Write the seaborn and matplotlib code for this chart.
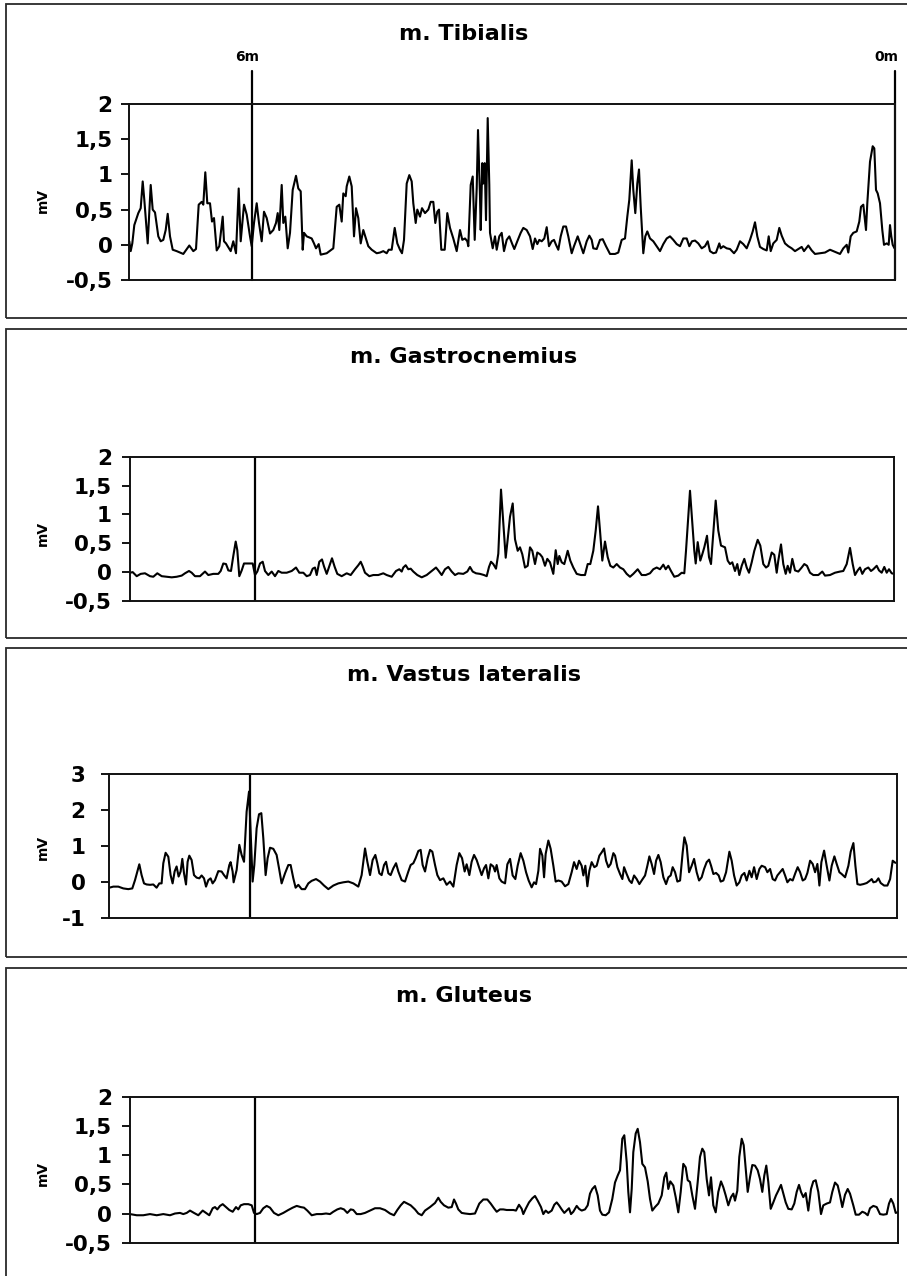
import matplotlib
matplotlib.use('Agg')
import matplotlib.pyplot as plt
from matplotlib.patches import Rectangle
import seaborn as sns
import pandas as pd

sns.set_style('white')
plt.rcParams['font.family'] = ['DejaVu Sans']
plt.rcParams['text.color'] = 'black'
plt.rcParams['axes.labelcolor'] = 'black'
plt.rcParams['xtick.color'] = 'black'
plt.rcParams['ytick.color'] = 'black'

# ---------------- data ----------------
titles = ["m. Tibialis", "m. Gastrocnemius", "m. Vastus lateralis", "m. Gluteus"]
ylabel = "mV"
marker_labels = ["6m", "0m"]
yticks_a = [-0.5, 0, 0.5, 1, 1.5, 2]
yticklabels_a = ["-0,5", "0", "0,5", "1", "1,5", "2"]
yticks_b = [-1, 0, 1, 2, 3]
yticklabels_b = ["-1", "0", "1", "2", "3"]

t_tib = [1.3, 2.7, 4.3, 6.3, 10.3, 12.7, 14.7, 16.3, 19.7, 22.7,
         24.7, 27, 30.3, 32.7, 35.3, 37.7, 39.7, 42, 44.7, 48.7,
         55.3, 61.3, 65.3, 68, 70.7, 73.7, 75.3, 77.3, 79.3, 82,
         84, 86, 88.7, 91.3, 94.7, 96, 98, 102.7, 105.3, 108,
         110.7, 112.7, 116, 118.7, 122, 123.7, 126, 128.7, 131, 133.7,
         136, 138.7, 142, 145.3, 148, 149.7, 151.3, 153.7, 155.3, 157.3,
         159.7, 162, 164.7, 168, 170.3, 172.7, 174.7, 176, 178.7, 183.7,
         186, 188, 190.7, 192.7, 198.7, 205.3, 208.7, 211.3, 213.7, 215.3,
         217.7, 218.7, 221.3, 223.7, 226, 228, 230.3, 232.7, 235.3, 237.3,
         240.3, 243.7, 248.7, 252, 255.3, 258.7, 260.7, 263.7, 266.7, 269.3,
         272, 274, 276, 278.7, 281.3, 283.7, 285.3, 287.7, 289.3, 292,
         294, 297, 300.3, 302.7, 305.3, 307.3, 309.3, 311, 313.3, 316.7,
         319.3, 322, 325.3, 328.7, 332, 334.3, 337, 339.3, 340.3, 342.7,
         344.7, 346.7, 348.7, 350, 352, 352.7, 354.3, 355.3, 356.7, 358,
         359.7, 361.3, 362, 364.7, 367, 368.7, 371.3, 373.7, 376, 378.7,
         381.3, 384, 386.3, 389.3, 392.7, 395.3, 398.7, 402, 404.7, 407,
         409.3, 411.3, 413.7, 416.3, 418.7, 421, 423.7, 426, 428, 430.3,
         432.7, 435.3, 438, 440.3, 443.7, 446, 449.7, 452, 455.3, 458.7,
         461.3, 463.7, 465.3, 468.7, 472, 474.7, 478, 482, 487, 490.3,
         493.7, 497, 499.3, 501.3, 503.7, 505.3, 507.3, 509.3, 511, 512.7,
         515.3, 517.3, 519.3, 522, 525.3, 528.7, 532, 535.3, 538.7, 542,
         545.3, 548.7, 552, 555.3, 558.7, 561.3, 564, 567, 570.3, 573.7,
         577, 579.7, 582, 585.3, 588, 591.3, 592.7, 595.3, 598.7, 602,
         606, 608.7, 612, 615.3, 618.7, 622, 624.7, 627, 629.3, 632,
         635.3, 638.7, 640.7, 642.7, 645.3, 648.7, 651.3, 653.7, 657, 660.3,
         663.7, 667, 670.3, 673.7, 676, 680.3, 683.7, 687, 692, 697,
         702, 705.3, 708.7, 712, 715.3, 718.7, 720.3, 722.7, 725.3, 728.7,
         731.3, 733, 735.3, 738, 739.3, 742, 744.7, 746.3, 748, 749.7,
         752, 754.3, 756, 758.7, 760.7, 762, 763.3, 764.7, 766.5]
v_tib = [0.05, -0.09, 0.02, 0.28, 0.45, 0.52, 0.90, 0.64, 0.02, 0.85,
         0.50, 0.46, 0.12, 0.05, 0.07, 0.21, 0.44, 0.12, -0.07, -0.09,
         -0.13, -0.01, -0.09, -0.06, 0.57, 0.61, 0.57, 1.03, 0.59, 0.59,
         0.33, 0.38, -0.08, -0.02, 0.40, 0.05, 0.02, -0.09, 0.05, -0.12,
         0.80, 0.05, 0.57, 0.43, 0.12, -0.02, 0.31, 0.59, 0.31, 0.05,
         0.47, 0.38, 0.16, 0.21, 0.31, 0.45, 0.21, 0.85, 0.31, 0.40,
         -0.05, 0.17, 0.78, 0.98, 0.80, 0.76, -0.07, 0.17, 0.12, 0.09,
         0.02, -0.05, 0.01, -0.14, -0.12, -0.05, 0.54, 0.57, 0.33, 0.73,
         0.69, 0.83, 0.97, 0.83, 0.12, 0.52, 0.38, 0.02, 0.21, 0.12,
         -0.02, -0.07, -0.12, -0.11, -0.09, -0.12, -0.07, -0.07, 0.24, 0.02,
         -0.07, -0.12, 0.07, 0.87, 0.99, 0.90, 0.59, 0.31, 0.50, 0.40,
         0.52, 0.45, 0.50, 0.61, 0.61, 0.31, 0.47, 0.50, -0.07, -0.07,
         0.45, 0.24, 0.09, -0.09, 0.21, 0.07, 0.09, 0.05, -0.02, 0.85,
         0.97, 0.07, 0.80, 1.63, 0.69, 0.21, 1.16, 0.87, 1.16, 0.35,
         1.80, 0.85, 0.17, -0.05, 0.12, -0.07, 0.12, 0.17, -0.09, 0.07,
         0.12, 0.02, -0.06, 0.05, 0.17, 0.24, 0.21, 0.12, -0.06, 0.09,
         0.01, 0.07, 0.05, 0.09, 0.25, -0.02, 0.05, 0.07, 0.00, -0.07,
         0.12, 0.26, 0.26, 0.12, -0.12, -0.02, 0.12, 0.02, -0.12, 0.05,
         0.13, 0.07, -0.05, -0.06, 0.07, 0.08, -0.02, -0.13, -0.13, -0.11,
         0.07, 0.09, 0.40, 0.64, 1.20, 0.78, 0.45, 0.87, 1.07, 0.54,
         -0.12, 0.12, 0.19, 0.09, 0.05, -0.02, -0.09, 0.01, 0.09, 0.12,
         0.07, 0.01, -0.02, 0.09, 0.09, -0.02, 0.05, 0.06, 0.02, -0.05,
         -0.02, 0.05, -0.09, -0.12, -0.11, 0.02, -0.05, -0.02, -0.05, -0.06,
         -0.12, -0.07, 0.05, 0.01, -0.05, 0.07, 0.19, 0.32, 0.12, -0.03,
         -0.06, -0.08, 0.12, -0.09, 0.02, 0.07, 0.24, 0.13, 0.02, -0.02,
         -0.05, -0.09, -0.06, -0.03, -0.09, -0.01, -0.08, -0.13, -0.12, -0.11,
         -0.07, -0.09, -0.11, -0.13, -0.05, 0.00, -0.11, 0.12, 0.17, 0.19,
         0.33, 0.54, 0.57, 0.21, 0.59, 1.18, 1.40, 1.37, 0.78, 0.73,
         0.59, 0.21, 0.00, 0.02, 0.00, 0.28, 0.12, 0.00, -0.05]

t_gas = [0, 2.7, 6.7, 10.7, 15, 20, 23.3, 27.3, 31.7, 36.7,
         41.7, 46.7, 51.7, 55, 59, 61.7, 65, 70, 75, 78.3,
         83.3, 88.3, 90.7, 93.3, 96, 98.3, 101, 103.3, 105.7, 107.3,
         109.3, 111.7, 114, 118.3, 122.7, 125, 127.3, 130, 132.7, 135,
         138.3, 141.7, 145, 148.3, 151.7, 156.7, 161.7, 166, 169.3, 173.3,
         176.7, 180, 182.7, 185, 186.7, 189.3, 192, 194, 196.7, 199.3,
         202, 204.7, 207.3, 211.7, 216.7, 220.7, 225, 228.3, 230.7, 232.7,
         235, 239.3, 243.3, 248.3, 253.3, 256.7, 261.7, 266, 269.3, 271.7,
         273.3, 275.7, 278.3, 280.7, 283.3, 287.3, 291.7, 296.7, 301.7, 306,
         308.3, 311.7, 315, 318.3, 321.7, 325, 328.3, 333.3, 337.3, 340,
         342.7, 346, 350, 354, 356.7, 359, 361, 363.3, 366, 368.3,
         371, 375.7, 377.7, 380, 382.7, 385, 387.7, 390, 392.3,
         395, 397.7, 400, 402.3, 405, 407.3, 410, 412.3, 415, 417.3,
         420, 423.3, 425.7, 427.7, 429.3, 431.7, 434.3, 437.7, 440.3, 443.3,
         446.7, 451, 455, 457.7, 460.3, 463.3, 465.7, 468, 470, 472.3,
         475, 477.7, 480.3, 483.3, 486.7, 490, 493.3, 496.7, 500, 503.3,
         507.7, 511.7, 515.7, 520, 523.3, 526.7, 530, 533.3, 535.7, 538.3,
         541, 544.3, 548.3, 551.7, 554.3, 556, 560, 564.3, 565.7, 567.7,
         570.3, 572.3, 574.3, 577, 579, 581, 583, 585.7, 588.3, 591,
         595, 597.7, 600, 602.3, 605, 607.3, 609.3, 611.7, 614.3, 616.7,
         619, 621.7, 624.3, 627.7, 630.3, 633.3, 636, 638.3, 641.7, 644.3,
         646.7, 648.3, 651, 653.3, 655.7, 657.7, 660, 662.3, 665, 668.3,
         671.7, 674.3, 677, 680, 683.3, 688.3, 692.3, 695, 700, 705,
         710, 713.3, 716.7, 720, 722.7, 725, 727.7, 730, 732.3, 735,
         738.3, 741, 743.3, 746.7, 749, 751.7, 754.3, 756.7, 759, 761.7,
         764]
v_gas = [-0.01, 0.00, -0.07, -0.03, -0.02, -0.07, -0.08, -0.02, -0.07, -0.08,
         -0.09, -0.08, -0.06, -0.02, 0.02, -0.01, -0.07, -0.07, 0.01, -0.05,
         -0.03, -0.03, 0.02, 0.15, 0.14, 0.03, 0.02, 0.28, 0.53, 0.38,
         -0.07, 0.03, 0.15, 0.15, 0.15, -0.05, 0.01, 0.15, 0.18, 0.02,
         -0.05, 0.01, -0.07, 0.02, -0.01, -0.01, 0.02, 0.08, -0.01, -0.01,
         -0.07, -0.05, 0.06, 0.08, -0.05, 0.18, 0.22, 0.10, -0.03, 0.10,
         0.24, 0.09, -0.03, -0.07, -0.02, -0.05, 0.05, 0.12, 0.18, 0.10,
         -0.01, -0.07, -0.05, -0.05, -0.02, -0.05, -0.08, 0.02, 0.05, 0.01,
         0.08, 0.12, 0.05, 0.06, 0.01, -0.05, -0.09, -0.05, 0.02, 0.08,
         0.03, -0.05, 0.05, 0.09, 0.01, -0.05, -0.02, -0.03, 0.01, 0.09,
         0.01, -0.02, -0.03, -0.05, -0.07, 0.09, 0.18, 0.14, 0.06, 0.32,
         1.43, 0.25, 0.57, 0.96, 1.19, 0.57, 0.37, 0.43, 0.31,
         0.08, 0.11, 0.43, 0.37, 0.14, 0.34, 0.31, 0.26, 0.11, 0.23,
         0.17, -0.03, 0.38, 0.14, 0.28, 0.17, 0.14, 0.37, 0.20, 0.08,
         -0.03, -0.05, -0.05, 0.14, 0.14, 0.37, 0.72, 1.14, 0.72, 0.20,
         0.53, 0.26, 0.11, 0.08, 0.14, 0.08, 0.05, -0.03, -0.08, -0.03,
         0.05, -0.05, -0.05, -0.02, 0.05, 0.08, 0.05, 0.13, 0.05, 0.11,
         0.02, -0.08, -0.06, -0.01, -0.02, 0.37, 1.41, 0.37, 0.15, 0.52,
         0.20, 0.31, 0.43, 0.63, 0.26, 0.14, 0.60, 1.24, 0.72, 0.46,
         0.43, 0.20, 0.14, 0.17, 0.02, 0.14, -0.05, 0.11, 0.23, 0.08,
         -0.01, 0.17, 0.37, 0.56, 0.46, 0.14, 0.08, 0.11, 0.34, 0.30,
         -0.01, 0.20, 0.48, 0.14, -0.03, 0.11, -0.01, 0.23, 0.03, 0.01,
         0.08, 0.14, 0.11, -0.01, -0.05, -0.05, 0.01, -0.06, -0.05, -0.01,
         0.01, 0.02, 0.14, 0.42, 0.14, -0.05, 0.03, 0.08, -0.03, 0.05,
         0.08, 0.02, 0.05, 0.11, 0.03, -0.01, 0.09, -0.01, 0.05, -0.02,
         -0.03]

t_vas = [0, 4, 9, 14, 19, 23, 25.7, 28, 30, 32.3,
         34.7, 37.3, 40.7, 44, 47.3, 50, 52.3, 54, 56.3, 59,
         61.3, 63.3, 65.3, 67.3, 69.3, 71.3, 73, 74.7, 76.7, 78.3,
         80, 82.3, 84.7, 87.3, 90, 92.3, 94.7, 96.7, 99, 101.3,
         103.3, 105.7, 109, 112.3, 114.7, 117.3, 120, 121.3, 123.3, 124.3,
         127.3, 130, 132.3, 134.7, 137.3, 139.7, 141.3, 143.3, 145, 147.3,
         149.7, 152, 154, 156.3, 158.3, 160.7, 164, 167.3, 169.7, 172.3,
         175.7, 179, 181.3, 184, 186.3, 189, 192.3, 195.7, 199, 202.3,
         206.7, 210.7, 214.7, 219, 224, 229, 234, 239, 244, 249,
         252.3, 255.7, 258, 260.7, 263.3, 266, 268, 270, 272.3, 274.7,
         276.7, 279, 281.3, 284, 286.7, 289, 292.3, 295.7, 299, 301.3,
         304, 306.3, 309, 311.3, 313.3, 315.7, 318.3, 320.7, 323, 325.7,
         328, 330.7, 334, 337.3, 340.7, 344, 347.3, 350, 352.7, 355.3,
         357.3, 360, 362.3, 364.7, 367.3, 370, 372.3, 374.7, 376.7, 379,
         381.3, 384, 385.7, 387.3, 390, 392.3, 395.7, 398, 400.7, 403.3,
         406, 408.3, 411.3, 414, 416.7, 419.3, 422.3, 424.7, 426.7, 429,
         430.7, 433, 434.7, 436.3, 439, 441.3, 444, 446.3, 449, 452.3,
         455.7, 459, 462.3, 464.7, 467.3, 469.7, 472.3, 474, 476, 478,
         480, 482.3, 485, 487.3, 490, 492.3, 494.7, 496.7, 499, 501.3,
         504, 505.7, 508, 510.7, 513, 514.7, 517.3, 520, 522.3, 524.7,
         527.3, 530, 532.3, 535.7, 538, 540, 542.3, 544.7, 546.7, 549,
         551.3, 554, 556.7, 559, 561.3, 563.3, 565.7, 568, 570.7, 573.3,
         575, 577.3, 579.7, 582.3, 584.7, 587.3, 589.7, 592.3, 594.7, 597.3,
         599.7, 601.7, 604, 606.7, 609.3, 611.3, 614, 616.7, 620, 622.3,
         624.7, 627.3, 630, 632.3, 635, 637.3, 640, 642.3, 644.7, 647.3,
         650, 652.3, 655.7, 658, 660.7, 663.3, 665.7, 668, 670.7, 673.3,
         675.7, 678, 680.7, 683.3, 686, 688.3, 690.7, 693.3, 695.7, 698,
         700.7, 703.3, 705.7, 708, 710, 712, 714.7, 717.3, 720, 722.3,
         725, 727.3, 730, 732.3, 735.7, 739, 741.3, 744, 746, 748,
         750.7, 754, 757.3, 760.7, 762.3, 764, 766.7, 769, 771.3, 774.7,
         778, 780.7, 783.3, 786]
v_vas = [-0.15, -0.12, -0.12, -0.17, -0.19, -0.17, 0.06, 0.30, 0.50, 0.20,
         -0.03, -0.06, -0.07, -0.06, -0.15, -0.03, -0.03, 0.53, 0.82, 0.71,
         0.20, -0.03, 0.30, 0.44, 0.16, 0.30, 0.65, 0.25, -0.06, 0.57,
         0.74, 0.62, 0.20, 0.13, 0.11, 0.19, 0.11, -0.12, 0.06, 0.11,
         -0.03, 0.06, 0.31, 0.30, 0.20, 0.11, 0.48, 0.56, 0.30, 0.00,
         0.34, 1.04, 0.76, 0.57, 1.96, 2.52, 1.41, 0.02, 0.48, 1.50,
         1.89, 1.92, 1.22, 0.20, 0.67, 0.96, 0.93, 0.76, 0.39, -0.03,
         0.25, 0.48, 0.48, 0.11, -0.15, -0.07, -0.19, -0.19, -0.03, 0.04,
         0.09, 0.02, -0.09, -0.19, -0.09, -0.03, 0.00, 0.02, -0.03, -0.12,
         0.20, 0.94, 0.57, 0.20, 0.62, 0.76, 0.53, 0.25, 0.20, 0.48,
         0.57, 0.25, 0.20, 0.39, 0.53, 0.30, 0.06, 0.02, 0.30, 0.48,
         0.53, 0.67, 0.87, 0.90, 0.48, 0.30, 0.67, 0.90, 0.85, 0.48,
         0.20, 0.06, 0.11, -0.07, 0.02, -0.12, 0.48, 0.81, 0.67, 0.30,
         0.50, 0.20, 0.57, 0.76, 0.62, 0.39, 0.20, 0.39, 0.48, 0.11,
         0.50, 0.44, 0.30, 0.48, 0.11, 0.02, -0.03, 0.50, 0.65, 0.19,
         0.09, 0.46, 0.81, 0.60, 0.28, 0.05, -0.14, 0.00, -0.05, 0.32,
         0.93, 0.74, 0.14, 0.79, 1.16, 0.93, 0.46, 0.02, 0.05, 0.02,
         -0.11, -0.05, 0.28, 0.56, 0.37, 0.60, 0.46, 0.19, 0.46, -0.11,
         0.32, 0.56, 0.42, 0.46, 0.74, 0.83, 0.94, 0.60, 0.42, 0.51,
         0.81, 0.74, 0.42, 0.23, 0.09, 0.42, 0.23, 0.05, -0.02, 0.19,
         0.09, -0.05, 0.05, 0.19, 0.46, 0.72, 0.51, 0.23, 0.60, 0.76,
         0.56, 0.14, -0.05, 0.14, 0.19, 0.42, 0.28, 0.02, 0.05, 0.83,
         1.25, 1.02, 0.28, 0.46, 0.65, 0.28, 0.05, 0.14, 0.37, 0.56,
         0.63, 0.46, 0.23, 0.26, 0.19, 0.02, 0.05, 0.28, 0.85, 0.60,
         0.19, -0.09, 0.00, 0.19, 0.26, 0.05, 0.32, 0.14, 0.42, 0.09,
         0.37, 0.46, 0.42, 0.28, 0.37, 0.09, 0.05, 0.19, 0.28, 0.37,
         0.19, 0.00, 0.09, 0.05, 0.26, 0.42, 0.28, 0.05, 0.09, 0.26,
         0.60, 0.51, 0.28, 0.51, -0.09, 0.56, 0.88, 0.46, 0.05, 0.46,
         0.72, 0.51, 0.28, 0.23, 0.14, 0.46, 0.85, 1.09, 0.46, -0.05,
         -0.07, -0.05, -0.02, 0.05, 0.09, 0.00, 0.02, 0.11, -0.02, -0.09,
         -0.09, 0.09, 0.60, 0.54]

t_glu = [0, 6.7, 13.3, 20, 26.7, 33.3, 40, 45, 50, 53.3,
         56.7, 60, 64, 68.3, 72.7, 76, 79.3, 82.7, 85, 87.3,
         90, 92.7, 96, 99.3, 102.7, 106, 108.3, 110.7, 114, 118.3,
         121.7, 124, 126.7, 130, 133.3, 136.7, 140, 144, 148.3, 153.3,
         158.3, 162.7, 166.7, 170.7, 174, 177.3, 181.7, 186.7, 191.7, 196,
         200, 203.3, 207.3, 210.7, 214, 217.3, 220.7, 223.3, 226.7, 230.7,
         235, 240, 245, 250, 255, 260, 264, 267.3, 270.7, 274,
         277.3, 280.7, 285, 288.3, 291.7, 295, 300, 305, 308.3, 310.7,
         314, 318.3, 321.7, 324, 326, 328.3, 331.7, 335, 340, 345,
         349.3, 353.3, 357.3, 360.7, 364, 366.7, 370, 373.3, 376.7, 380,
         383.3, 386, 389, 391.7, 393.3, 395.7, 399, 402.3, 405, 407.7,
         411, 413.3, 415.7, 418.3, 421.7, 424.3, 426.7, 429, 431.7, 434.3,
         436.7, 439, 441, 443.3, 446.7, 449, 451.7, 455, 457.7, 460,
         462.3, 465, 467.7, 470, 472.3, 475.7, 479, 482.3, 485, 487.7,
         490, 492.3, 494.3, 496.7, 498.3, 500, 501.7, 503.3, 505.7, 507.7,
         510, 512.3, 515, 517.7, 520, 522.3, 525, 528.3, 531.7, 534.3,
         536.3, 538.3, 540.3, 543.3, 545.7, 548.3, 550.7, 553.3, 555.7, 557.7,
         560, 562.3, 565, 567.7, 570, 572.3, 574.3, 576.7, 579, 581,
         583.3, 585.7, 588.3, 591, 593.3, 595.7, 598.3, 601, 603.3, 605,
         607.3, 609.3, 611.7, 613.7, 615.7, 617.7, 620, 622.3, 625, 627.7,
         630, 632.3, 634.3, 636.3, 638.3, 640.7, 643.3, 646, 648.3, 651,
         653.3, 655.7, 658.3, 661.7, 664.3, 666.7, 669, 671, 673.3, 675.7,
         678.3, 681, 683.3, 685.7, 688.3, 691, 693.3, 696.7, 700, 702.3,
         705, 707.7, 710, 712.3, 715, 717.7, 720, 723.3, 725.7, 729,
         732.3, 735, 737.7, 740, 743.3, 746.7, 750, 753.3, 756.7, 759,
         761, 763.3, 765.7, 767.7]
v_glu = [-0.01, -0.03, -0.03, -0.01, -0.03, -0.01, -0.03, 0.00, 0.01, -0.01,
         0.01, 0.05, 0.01, -0.03, 0.05, 0.01, -0.03, 0.09, 0.11, 0.07,
         0.13, 0.16, 0.11, 0.06, 0.03, 0.11, 0.07, 0.14, 0.16, 0.16,
         0.14, 0.01, -0.01, 0.01, 0.09, 0.13, 0.10, 0.01, -0.03, 0.01,
         0.06, 0.10, 0.13, 0.11, 0.10, 0.05, -0.03, -0.01, -0.01, 0.00,
         -0.01, 0.03, 0.07, 0.09, 0.07, 0.01, 0.07, 0.06, -0.01, -0.01,
         0.01, 0.05, 0.09, 0.09, 0.06, 0.00, -0.03, 0.06, 0.14, 0.20,
         0.17, 0.14, 0.07, 0.00, -0.03, 0.05, 0.11, 0.18, 0.27, 0.20,
         0.14, 0.10, 0.11, 0.24, 0.17, 0.07, 0.01, 0.00, -0.01, 0.00,
         0.17, 0.24, 0.24, 0.17, 0.09, 0.03, 0.07, 0.07, 0.06, 0.06,
         0.06, 0.05, 0.15, 0.08, -0.01, 0.08, 0.19, 0.26, 0.30, 0.22,
         0.11, -0.01, 0.05, 0.01, 0.05, 0.15, 0.19, 0.14, 0.07, 0.01,
         0.05, 0.09, -0.01, 0.03, 0.13, 0.08, 0.05, 0.07, 0.14, 0.34,
         0.42, 0.47, 0.31, 0.05, -0.02, -0.03, 0.02, 0.25, 0.53, 0.65,
         0.74, 1.28, 1.34, 0.88, 0.37, 0.02, 0.42, 1.05, 1.37, 1.45,
         1.22, 0.85, 0.79, 0.55, 0.25, 0.05, 0.11, 0.17, 0.31, 0.62,
         0.70, 0.42, 0.55, 0.48, 0.28, 0.02, 0.37, 0.85, 0.79, 0.57,
         0.54, 0.31, 0.08, 0.54, 0.97, 1.11, 1.05, 0.59, 0.31, 0.62,
         0.14, 0.02, 0.37, 0.55, 0.45, 0.31, 0.14, 0.28, 0.34, 0.22,
         0.39, 0.97, 1.28, 1.17, 0.77, 0.37, 0.62, 0.83, 0.82, 0.74,
         0.59, 0.37, 0.65, 0.82, 0.54, 0.08, 0.19, 0.31, 0.39, 0.49,
         0.34, 0.19, 0.08, 0.07, 0.17, 0.37, 0.49, 0.37, 0.28, 0.35,
         0.05, 0.42, 0.55, 0.57, 0.37, -0.01, 0.14, 0.17, 0.19, 0.37,
         0.53, 0.48, 0.31, 0.11, 0.32, 0.42, 0.34, 0.14, -0.02, -0.02,
         0.03, 0.01, -0.03, 0.09, 0.13, 0.11, -0.01, -0.02, -0.01, 0.17,
         0.25, 0.17, 0.01, 0.02]

series_t = [t_tib, t_gas, t_vas, t_glu]
series_v = [v_tib, v_gas, v_vas, v_glu]
six_m = [123.7, 125, 140.7, 125]
x_start = [1.3, 0, 0, 0]
x_end = [767, 764.3, 787.3, 768.3]

# ---------------- layout (pixels) ----------------
W, H = 907, 1276
axes_px = [(129.3, 104, 895, 280), (130, 456.7, 894.3, 601),
           (109.3, 774.3, 896.7, 918.3), (130, 1096.7, 898.3, 1242.7)]
frames_px = [(6, 4, 318), (6, 329, 638), (6, 648, 957), (6, 968, 1300)]
title_y = [34, 357, 675, 996]
mv_y = [200, 533, 847, 1173]
tick_pad = [6, 7, 11, 7]

fig = plt.figure(figsize=(W / 100, H / 100), dpi=100)
fig.patch.set_facecolor('white')

for (x0, y0, y1) in frames_px:
    fig.add_artist(Rectangle((x0 / W, 1 - y1 / H), (915 - x0) / W, (y1 - y0) / H,
                             transform=fig.transFigure, fill=False,
                             ec='#2a2a2a', lw=1.3))

for i in range(4):
    l, t, r, b = axes_px[i]
    ax = fig.add_axes([l / W, 1 - b / H, (r - l) / W, (b - t) / H])
    df = pd.DataFrame({'t': series_t[i], 'v': series_v[i]})
    sns.lineplot(data=df, x='t', y='v', ax=ax, color='black', lw=1.5,
                 estimator=None, sort=False)
    ax.set_xlim(x_start[i], x_end[i])
    if i == 2:
        ax.set_ylim(-1, 3)
        ax.set_yticks(yticks_b)
        ax.set_yticklabels(yticklabels_b, fontsize=15.5, fontweight='bold',
                           color='black')
    else:
        ax.set_ylim(-0.5, 2)
        ax.set_yticks(yticks_a)
        ax.set_yticklabels(yticklabels_a, fontsize=15.5, fontweight='bold',
                           color='black')
    ax.set_xticks([])
    ax.set_xlabel('')
    ax.set_ylabel('')
    for sp in ax.spines.values():
        sp.set_visible(True)
        sp.set_color('#111111')
        sp.set_linewidth(1.4)
    ax.tick_params(axis='y', left=True, direction='out', length=6, width=1.3,
                   pad=tick_pad[i], colors='black')
    if i == 0:
        ax.axvline(six_m[i], ymin=0, ymax=1.19, color='black', lw=1.6, clip_on=False)
        ax.axvline(x_end[i], ymin=0, ymax=1.19, color='black', lw=1.6, clip_on=False)
        tr = ax.get_xaxis_transform()
        ax.text(six_m[i] - 4.5, 1.265, marker_labels[0], transform=tr, ha='center',
                va='center', fontsize=10, fontweight='bold', color='black')
        ax.text(x_end[i] - 9, 1.265, marker_labels[1], transform=tr, ha='center',
                va='center', fontsize=10, fontweight='bold', color='black')
    else:
        ax.axvline(six_m[i], color='black', lw=1.6)
    fig.text(464 / W, 1 - title_y[i] / H, titles[i], ha='center', va='center',
             fontsize=16, fontweight='bold', color='black')
    fig.text(43 / W, 1 - mv_y[i] / H, ylabel, rotation=90, ha='center',
             va='center', fontsize=10, fontweight='bold', color='black')

fig.savefig('out.png', dpi=100)
